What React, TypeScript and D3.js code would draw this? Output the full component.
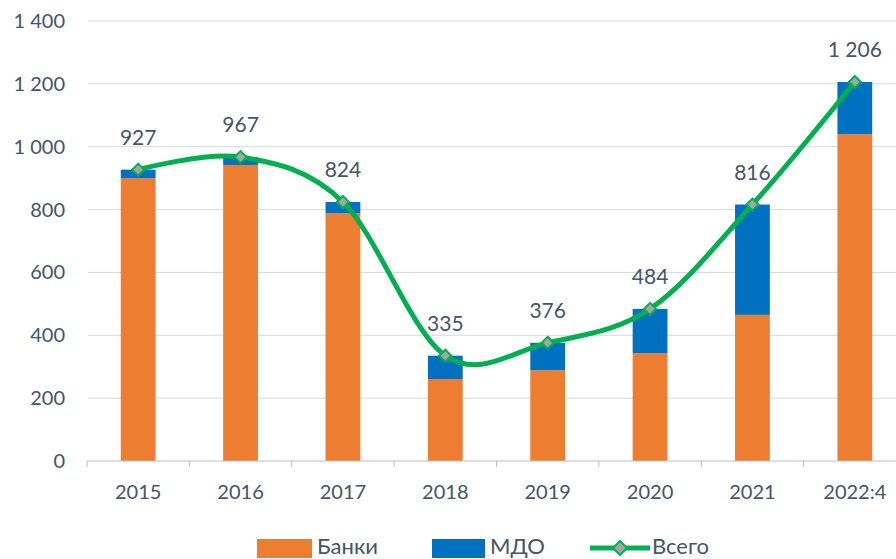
import React from "react";
import * as d3 from "d3";

const categories = ["2015", "2016", "2017", "2018", "2019", "2020", "2021", "2022:4"];
const banks = [900, 942, 788, 261, 289, 343, 465, 1040];
const mdo = [27, 25, 36, 74, 87, 141, 351, 166];
const totals = [927, 967, 824, 335, 376, 484, 816, 1206];
const yTicks = [0, 200, 400, 600, 800, 1000, 1200, 1400];

const W = 896;
const H = 559;
const FONT = "Lato, 'Open Sans', sans-serif";
const TXT = "#44546A";

const fmt = (v: number) => {
  const s = String(v);
  return s.length > 3 ? s.slice(0, s.length - 3) + "\u00a0" + s.slice(-3) : s;
};

export default function App() {
  const x = d3.scaleBand<string>().domain(categories).range([87, 906]).paddingInner(0.66).paddingOuter(0.33);
  const y = d3.scaleLinear().domain([0, 1400]).range([461, 21]);
  const cx = (c: string) => (x(c) as number) + x.bandwidth() / 2;
  const line = d3
    .line<number>()
    .x((_, i) => cx(categories[i]))
    .y((d) => y(d))
    .curve(d3.curveCardinal.tension(0));
  const step = x.step();
  const diamond = (px: number, py: number, r: number) =>
    `M${px},${py - r}L${px + r},${py}L${px},${py + r}L${px - r},${py}Z`;

  return (
    <svg
      width={W}
      height={H}
      style={{ position: "absolute", left: 0, top: 0, background: "#fff" }}
      fontFamily={FONT}
    >
      {yTicks.map((t) => (
        <g key={t}>
          {t > 0 && <line x1={88} x2={W} y1={y(t)} y2={y(t)} stroke="#D9D9D9" strokeWidth={1} />}
          <text x={65} y={y(t)} dy="0.35em" textAnchor="end" fontSize={20} fill={TXT}>
            {fmt(t)}
          </text>
        </g>
      ))}
      {categories.map((c, i) => (
        <g key={c}>
          <rect x={x(c)} width={x.bandwidth()} y={y(banks[i])} height={y(0) - y(banks[i])} fill="#ED7D31" />
          <rect
            x={x(c)}
            width={x.bandwidth()}
            y={y(banks[i] + mdo[i])}
            height={y(banks[i]) - y(banks[i] + mdo[i])}
            fill="#0070C0"
          />
        </g>
      ))}
      <line x1={87} x2={W} y1={y(0)} y2={y(0)} stroke="#BFBFBF" strokeWidth={1} />
      {d3.range(categories.length + 1).map((i) => (
        <line
          key={i}
          x1={87 + i * step}
          x2={87 + i * step}
          y1={y(0)}
          y2={y(0) + 6}
          stroke="#BFBFBF"
          strokeWidth={1}
        />
      ))}
      {categories.map((c) => (
        <text key={c} x={cx(c)} y={492} dy="0.35em" textAnchor="middle" fontSize={20} fill={TXT}>
          {c}
        </text>
      ))}
      <path d={line(totals) || ""} fill="none" stroke="#00B050" strokeWidth={5} />
      {categories.map((c, i) => (
        <g key={c}>
          <path d={diamond(cx(c), y(totals[i]), 6)} fill="#A5A5A5" stroke="#00B050" strokeWidth={2} />
          <text x={cx(c)} y={y(totals[i]) - 25} textAnchor="middle" fontSize={21} fill={TXT}>
            {fmt(totals[i])}
          </text>
        </g>
      ))}
      <g fontSize={22} fill={TXT}>
        <rect x={257} y={539} width={55} height={19} fill="#ED7D31" />
        <text x={317} y={554}>Банки</text>
        <rect x={432} y={539} width={53} height={19} fill="#0070C0" />
        <text x={490} y={554}>МДО</text>
        <line x1={590} x2={650} y1={548} y2={548} stroke="#00B050" strokeWidth={5} />
        <path d={diamond(620, 548, 7)} fill="#A5A5A5" stroke="#00B050" strokeWidth={2} />
        <text x={652} y={554}>Всего</text>
      </g>
    </svg>
  );
}
